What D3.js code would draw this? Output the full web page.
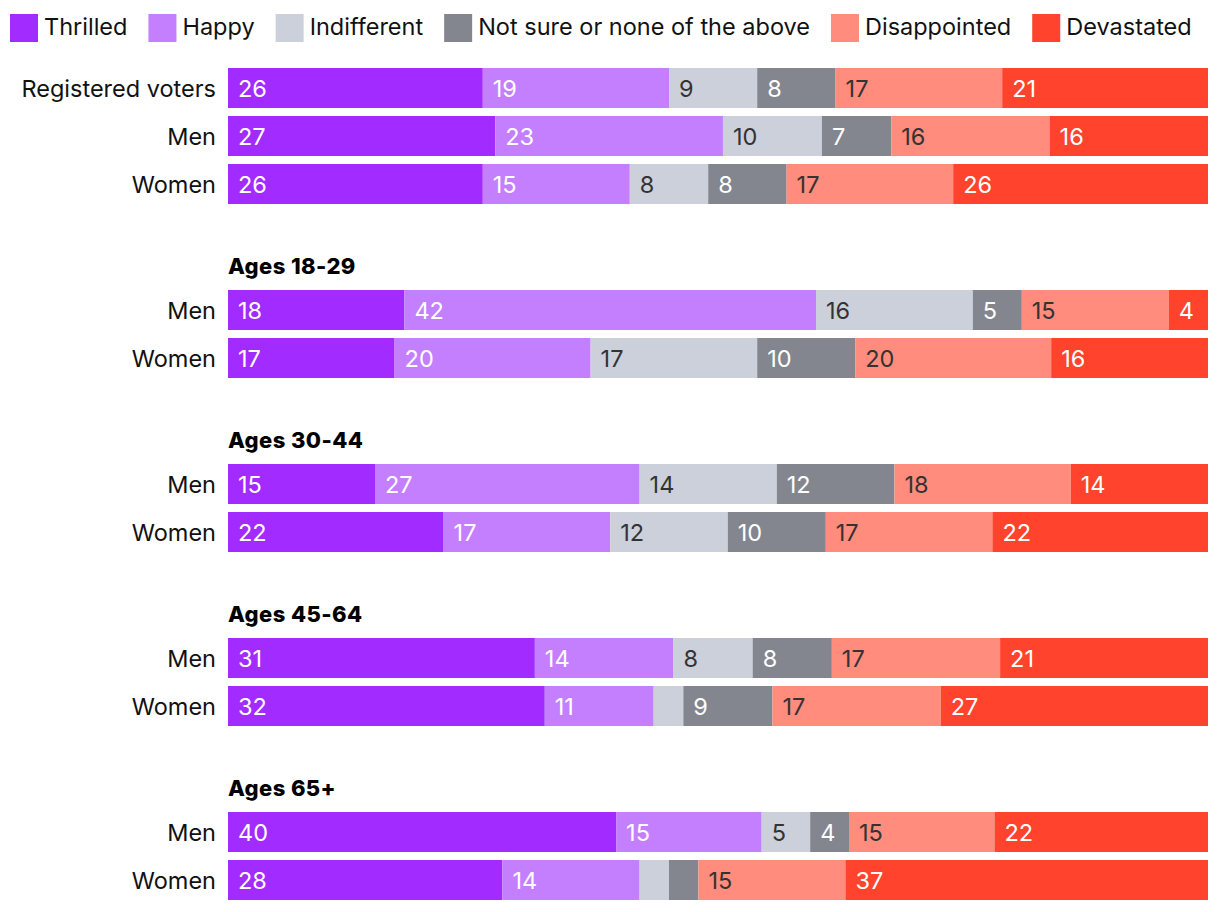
<!DOCTYPE html>
<html><head><meta charset="utf-8">
<script src="https://cdn.jsdelivr.net/npm/d3@7"></script>
<style>
html,body{margin:0;padding:0;background:#fff;}
svg{display:block;font-family:Inter,"Noto Sans",sans-serif;}
</style></head>
<body><svg id="chart" width="1220" height="912"></svg>
<script>
const categories = ["Thrilled","Happy","Indifferent","Not sure or none of the above","Disappointed","Devastated"];
const colors = ["#a22bff","#c47fff","#ccd0da","#83868f","#ff8c7c","#ff432c"];
const labelColors = ["#fff","#fff","#333","#fff","#333","#fff"];
const groups = [null, "Ages 18-29", "Ages 30-44", "Ages 45-64", "Ages 65+"];
const rowLabels = ["Registered voters","Men","Women","Men","Women","Men","Women","Men","Women","Men","Women"];
const rowGroup = [0,0,0,1,1,2,2,3,3,4,4];
const thrilled     = [26,27,26,18,17,15,22,31,32,40,28];
const happy        = [19,23,15,42,20,27,17,14,11,15,14];
const indifferent  = [9,10,8,16,17,14,12,8,3,5,3];
const notSure      = [8,7,8,5,10,12,10,8,9,4,3];
const disappointed = [17,16,17,15,20,18,17,17,17,15,15];
const devastated   = [21,16,26,4,16,14,22,21,27,22,37];
const series = [thrilled,happy,indifferent,notSure,disappointed,devastated];

const svg = d3.select("#chart");
const x0 = 228, x1 = 1208, barH = 40, rowStep = 48, groupGap = 78;
const fs = 23.5;

const rowY = [];
let y = 68;
rowLabels.forEach((r,i) => {
  if (i > 0 && rowGroup[i] !== rowGroup[i-1]) y += groupGap;
  rowY.push(y);
  y += rowStep;
});

// legend
const legend = svg.append("g").attr("class","legend");
let lx = 10;
categories.forEach((c,i) => {
  const g = legend.append("g").attr("transform",`translate(${lx},14)`);
  g.append("rect").attr("width",28).attr("height",28).attr("fill",colors[i]);
  const t = g.append("text").attr("x",34).attr("y",21).attr("font-size",fs).attr("fill","#111").text(c);
  lx += 34 + t.node().getComputedTextLength() + 21;
});

// group headers
groups.forEach((g,gi) => {
  if (!g) return;
  const first = rowGroup.indexOf(gi);
  svg.append("text").attr("x",x0).attr("y",rowY[first]-16)
    .attr("font-size",22).attr("font-weight",800).attr("fill","#000").attr("letter-spacing","0.4").text(g);
});

rowLabels.forEach((lab,i) => {
  const vals = series.map(s => s[i]);
  const total = d3.sum(vals);
  const xs = d3.scaleLinear().domain([0,total]).range([x0,x1]);
  let cum = 0;
  const row = svg.append("g");
  vals.forEach((v,k) => {
    const a = xs(cum), b = xs(cum+v);
    row.append("rect").attr("x",a).attr("y",rowY[i]).attr("width",b-a).attr("height",barH).attr("fill",colors[k]);
    if (v >= 4) {
      row.append("text").attr("x",a+10).attr("y",rowY[i]+barH/2+8.5)
        .attr("font-size",fs).attr("fill",labelColors[k]).text(v);
    }
    cum += v;
  });
  svg.append("text").attr("x",216).attr("y",rowY[i]+barH/2+8.5).attr("text-anchor","end")
    .attr("font-size",fs).attr("fill","#111").text(lab);
});
</script></body></html>
